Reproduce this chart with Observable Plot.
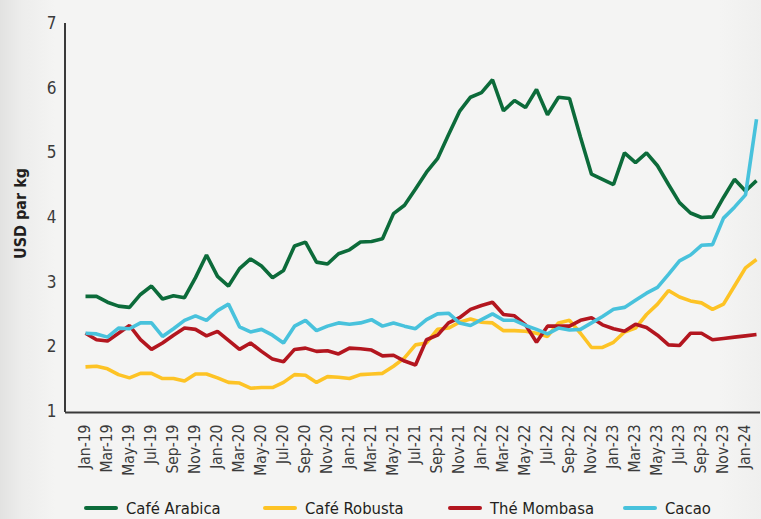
<!DOCTYPE html>
<html><head><meta charset="utf-8">
<script src="https://cdn.jsdelivr.net/npm/d3@7"></script>
<script src="https://cdn.jsdelivr.net/npm/@observablehq/plot@0.6"></script>
<style>
html,body{margin:0;padding:0;}
body{width:761px;height:519px;overflow:hidden;background:linear-gradient(to right,#e2e2e1 0px,#ededec 22px,#f4f4f3 55px,#f4f4f3 720px,#efefee 761px);font-family:"Liberation Sans Narrow","DejaVu Sans Condensed",sans-serif;}
#chart{position:relative;width:761px;height:490px;}
#legend{position:relative;width:761px;height:29px;}
.item{position:absolute;top:0;height:36px;display:flex;align-items:center;font-size:16.5px;color:#231f20;white-space:nowrap;}
.sw{width:34px;height:4px;border-radius:2px;margin-right:8px;}
</style></head><body>
<div id="chart"></div><div id="legend"></div>
<script>
const months = ["Jan-19","Feb-19","Mar-19","Apr-19","May-19","Jun-19","Jul-19","Aug-19","Sep-19","Oct-19","Nov-19","Dec-19",
"Jan-20","Feb-20","Mar-20","Apr-20","May-20","Jun-20","Jul-20","Aug-20","Sep-20","Oct-20","Nov-20","Dec-20",
"Jan-21","Feb-21","Mar-21","Apr-21","May-21","Jun-21","Jul-21","Aug-21","Sep-21","Oct-21","Nov-21","Dec-21",
"Jan-22","Feb-22","Mar-22","Apr-22","May-22","Jun-22","Jul-22","Aug-22","Sep-22","Oct-22","Nov-22","Dec-22",
"Jan-23","Feb-23","Mar-23","Apr-23","May-23","Jun-23","Jul-23","Aug-23","Sep-23","Oct-23","Nov-23","Dec-23",
"Jan-24","Feb-24"];
const tickLabels = ["Jan-19","Mar-19","May-19","Jul-19","Sep-19","Nov-19","Jan-20","Mar-20","May-20","Jul-20","Sep-20","Nov-20",
"Jan-21","Mar-21","May-21","Jul-21","Sep-21","Nov-21","Jan-22","Mar-22","May-22","Jul-22","Sep-22","Nov-22",
"Jan-23","Mar-23","May-23","Jul-23","Sep-23","Nov-23","Jan-24"];
const yTicks = [1,2,3,4,5,6,7];
const seriesNames = ["Café Arabica","Café Robusta","Thé Mombasa","Cacao"];
const arabica = [2.78,2.78,2.69,2.63,2.61,2.81,2.94,2.74,2.79,2.76,3.07,3.42,
3.09,2.94,3.21,3.36,3.25,3.07,3.18,3.56,3.62,3.31,3.28,3.44,
3.50,3.62,3.63,3.67,4.06,4.19,4.44,4.70,4.91,5.28,5.64,5.86,
5.93,6.13,5.65,5.81,5.70,5.98,5.59,5.86,5.84,5.24,4.67,4.59,
4.51,5.00,4.85,5.00,4.80,4.51,4.23,4.07,4.00,4.01,4.31,4.59,
4.41,4.57];
const robusta = [1.69,1.70,1.66,1.57,1.52,1.59,1.59,1.51,1.51,1.47,1.58,1.58,
1.52,1.45,1.44,1.36,1.37,1.37,1.45,1.57,1.56,1.45,1.54,1.53,
1.51,1.57,1.58,1.59,1.70,1.83,2.03,2.06,2.27,2.29,2.38,2.43,
2.38,2.37,2.25,2.25,2.24,2.21,2.16,2.37,2.41,2.21,1.99,1.99,
2.07,2.23,2.29,2.50,2.66,2.87,2.77,2.71,2.68,2.58,2.66,2.94,
3.22,3.35];
const mombasa = [2.21,2.11,2.09,2.21,2.33,2.11,1.96,2.06,2.18,2.29,2.27,2.17,
2.24,2.10,1.96,2.06,1.93,1.81,1.77,1.96,1.98,1.93,1.94,1.89,
1.98,1.97,1.95,1.86,1.87,1.78,1.72,2.11,2.18,2.37,2.45,2.58,
2.64,2.69,2.50,2.48,2.34,2.07,2.32,2.32,2.32,2.41,2.45,2.34,
2.28,2.24,2.35,2.30,2.18,2.03,2.02,2.21,2.21,2.11,2.13,2.15,
2.17,2.19];
const cacao = [2.21,2.20,2.15,2.29,2.28,2.37,2.37,2.16,2.28,2.41,2.48,2.41,
2.56,2.66,2.31,2.23,2.27,2.18,2.06,2.32,2.41,2.25,2.32,2.37,
2.35,2.37,2.42,2.32,2.37,2.32,2.28,2.42,2.51,2.52,2.37,2.33,
2.42,2.51,2.41,2.41,2.33,2.27,2.20,2.29,2.26,2.27,2.37,2.47,
2.58,2.61,2.72,2.83,2.92,3.12,3.33,3.42,3.57,3.58,3.99,4.16,
4.35,5.52];
const colors = ["#0c6b3a","#fdc325","#b3161f","#48c2dc"];

const values = [arabica, robusta, mombasa, cacao];
const table = [];
values.forEach((arr, s) => arr.forEach((v, i) => table.push({month: months[i], value: v, series: seriesNames[s]})));

const FONT = '"Liberation Sans Narrow","DejaVu Sans Condensed",sans-serif';
const axisColor = "#3a3a3a";

function leftAxisLine(index, scales, vals, dims) {
  const l = document.createElementNS("http://www.w3.org/2000/svg", "line");
  l.setAttribute("x1", dims.marginLeft); l.setAttribute("x2", dims.marginLeft);
  l.setAttribute("y1", dims.marginTop); l.setAttribute("y2", dims.height - dims.marginBottom + 1);
  l.setAttribute("stroke", axisColor); l.setAttribute("stroke-width", 2);
  return l;
}

const chart = Plot.plot({
  width: 761, height: 490,
  marginLeft: 65, marginRight: 1, marginTop: 23, marginBottom: 79,
  insetLeft: 16,
  style: {background: "transparent", fontFamily: FONT, color: "#3b3b3b", overflow: "visible"},
  x: {type: "point", domain: months, padding: 0},
  y: {domain: [1, 7]},
  color: {domain: seriesNames, range: colors},
  marks: [
    Plot.axisY({ticks: yTicks, tickFormat: d => String(d), tickSize: 0, tickPadding: 9, fontSize: 17, label: null}),
    Plot.axisX({ticks: tickLabels, tickSize: 0, tickRotate: -90, tickPadding: 13, fontSize: 15.5, label: null}),
    Plot.text(["USD par kg"], {frameAnchor: "left", dx: -45, dy: -4, rotate: -90, textAnchor: "middle", fontWeight: "bold", fontSize: 16, fill: "#231f20"}),
    Plot.ruleY([1], {stroke: axisColor, strokeWidth: 2, dy: 1}),
    leftAxisLine,
    Plot.line(table, {x: "month", y: "value", z: "series", stroke: "series", strokeWidth: 3.6, strokeLinejoin: "miter", strokeLinecap: "butt"})
  ]
});
document.getElementById("chart").appendChild(chart);

const legendLeft = [84, 263, 448, 623];
const legend = document.getElementById("legend");
seriesNames.forEach((name, i) => {
  const it = document.createElement("div");
  it.className = "item";
  it.style.left = legendLeft[i] + "px";
  const sw = document.createElement("div");
  sw.className = "sw"; sw.style.background = colors[i];
  const tx = document.createElement("span");
  tx.textContent = name;
  it.appendChild(sw); it.appendChild(tx);
  legend.appendChild(it);
});
</script></body></html>
